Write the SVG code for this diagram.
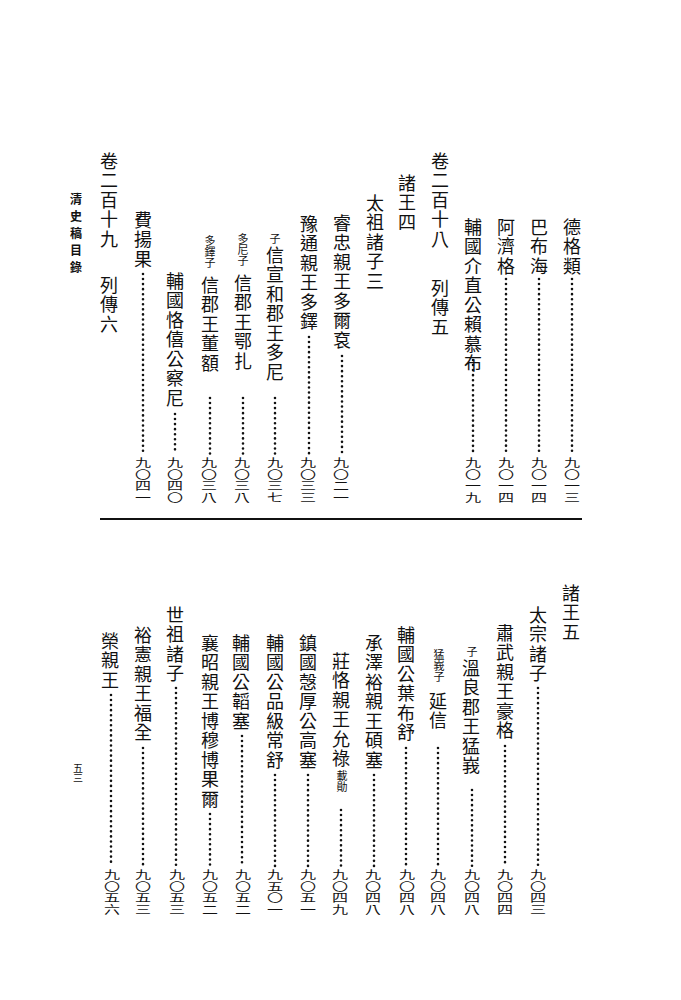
<svg xmlns="http://www.w3.org/2000/svg" width="681" height="1000" viewBox="0 0 681 1000">
<style>
.t{font-family:"Noto Sans CJK TC","Noto Sans CJK SC",sans-serif;font-size:18px;writing-mode:vertical-rl;text-orientation:upright;letter-spacing:1.5px;fill:#111}
.s{font-family:"Noto Sans CJK TC","Noto Sans CJK SC",sans-serif;font-size:11px;writing-mode:vertical-rl;text-orientation:upright;fill:#111}
.n{font-family:"Noto Sans CJK TC","Noto Sans CJK SC",sans-serif;font-size:16px;writing-mode:vertical-rl;text-orientation:upright;fill:#111}
.h{font-family:"Noto Sans CJK TC","Noto Sans CJK SC",sans-serif;font-size:12px;font-weight:bold;writing-mode:vertical-rl;text-orientation:upright;letter-spacing:5px;fill:#111}
.d{stroke:#111;stroke-width:2.6;stroke-linecap:round;stroke-dasharray:0 5.05;fill:none}
</style>
<rect width="681" height="1000" fill="#fff"/>
<g id="upper">
<g id="c1"><text class="t" x="572" y="218">德格類</text><g transform="translate(572,457) scale(1,0.72)"><text class="n" x="0" y="0">九〇一三</text></g></g>
<g id="c2"><text class="t" x="539" y="218">巴布海</text><g transform="translate(539,457) scale(1,0.72)"><text class="n" x="0" y="0">九〇一四</text></g></g>
<g id="c3"><text class="t" x="506" y="218">阿濟格</text><g transform="translate(506,457) scale(1,0.72)"><text class="n" x="0" y="0">九〇一四</text></g></g>
<g id="c4"><text class="t" x="473" y="218">輔國介直公賴慕布</text><g transform="translate(473,457) scale(1,0.72)"><text class="n" x="0" y="0">九〇一九</text></g></g>
<g id="c5"><text class="t" x="440" y="152">卷二百十八</text><text class="t" x="440" y="279">列傳五</text></g>
<g id="c6"><text class="t" x="407" y="174">諸王四</text></g>
<g id="c7"><text class="t" x="375" y="194">太祖諸子三</text></g>
<g id="c8"><text class="t" x="342" y="214">睿忠親王多爾袞</text><g transform="translate(341,457) scale(1,0.72)"><text class="n" x="0" y="0">九〇二一</text></g></g>
<g id="c9"><text class="t" x="309" y="215">豫通親王多鐸</text><g transform="translate(308,457) scale(1,0.72)"><text class="n" x="0" y="0">九〇三三</text></g></g>
<g id="c10"><text class="s" x="275" y="233">子</text><text class="t" x="275" y="246">信宣和郡王多尼</text><g transform="translate(275,457) scale(1,0.72)"><text class="n" x="0" y="0">九〇三七</text></g></g>
<g id="c11"><text class="s" x="243" y="233">多尼子</text><text class="t" x="243" y="274">信郡王鄂扎</text><g transform="translate(242,457) scale(1,0.72)"><text class="n" x="0" y="0">九〇三八</text></g></g>
<g id="c12"><text class="s" x="210" y="235">多鐸子</text><text class="t" x="210" y="276">信郡王董額</text><g transform="translate(209,457) scale(1,0.72)"><text class="n" x="0" y="0">九〇三八</text></g></g>
<g id="c13"><text class="t" x="175" y="272">輔國恪僖公察尼</text><g transform="translate(175,457) scale(1,0.72)"><text class="n" x="0" y="0">九〇四〇</text></g></g>
<g id="c14"><text class="t" x="143" y="211">費揚果</text><g transform="translate(143,457) scale(1,0.72)"><text class="n" x="0" y="0">九〇四一</text></g></g>
<g id="c15"><text class="t" x="109" y="152">卷二百十九</text><text class="t" x="109" y="276">列傳六</text></g>
<g id="c16"><text class="h" x="76" y="193">清史稿目錄</text></g>
</g>
<line id="rule" x1="100" y1="519" x2="582" y2="519" stroke="#111" stroke-width="2"/>
<g id="lower">
<g id="l1"><text class="t" x="571" y="584">諸王五</text></g>
<g id="l2"><text class="t" x="538" y="606">太宗諸子</text><g transform="translate(538,869) scale(1,0.72)"><text class="n" x="0" y="0">九〇四三</text></g></g>
<g id="l3"><text class="t" x="505" y="624">肅武親王豪格</text><g transform="translate(505,869) scale(1,0.72)"><text class="n" x="0" y="0">九〇四四</text></g></g>
<g id="l4"><text class="s" x="472" y="646">子</text><text class="t" x="471" y="659">溫良郡王猛峩</text><g transform="translate(472,869) scale(1,0.72)"><text class="n" x="0" y="0">九〇四八</text></g></g>
<g id="l5"><text class="s" x="439" y="649">猛峩子</text><text class="t" x="438" y="692">延信</text><g transform="translate(438,869) scale(1,0.72)"><text class="n" x="0" y="0">九〇四八</text></g></g>
<g id="l6"><text class="t" x="406" y="626">輔國公葉布舒</text><g transform="translate(407,869) scale(1,0.72)"><text class="n" x="0" y="0">九〇四八</text></g></g>
<g id="l7"><text class="t" x="374" y="634">承澤裕親王碩塞</text><g transform="translate(373,869) scale(1,0.72)"><text class="n" x="0" y="0">九〇四八</text></g></g>
<g id="l8"><text class="t" x="341" y="652">莊恪親王允祿</text><text class="s" x="342" y="770">載勛</text><g transform="translate(340,869) scale(1,0.72)"><text class="n" x="0" y="0">九〇四九</text></g></g>
<g id="l9"><text class="t" x="308" y="634">鎮國愨厚公高塞</text><g transform="translate(308,869) scale(1,0.72)"><text class="n" x="0" y="0">九〇五一</text></g></g>
<g id="l10"><text class="t" x="275" y="634">輔國公品級常舒</text><g transform="translate(275,869) scale(1,0.72)"><text class="n" x="0" y="0">九五〇一</text></g></g>
<g id="l11"><text class="t" x="241" y="634">輔國公韜塞</text><g transform="translate(243,869) scale(1,0.72)"><text class="n" x="0" y="0">九〇五二</text></g></g>
<g id="l12"><text class="t" x="210" y="634">襄昭親王博穆博果爾</text><g transform="translate(210,869) scale(1,0.72)"><text class="n" x="0" y="0">九〇五二</text></g></g>
<g id="l13"><text class="t" x="175" y="606">世祖諸子</text><g transform="translate(177,869) scale(1,0.72)"><text class="n" x="0" y="0">九〇五三</text></g></g>
<g id="l14"><text class="t" x="143" y="626">裕憲親王福全</text><g transform="translate(143,869) scale(1,0.72)"><text class="n" x="0" y="0">九〇五三</text></g></g>
<g id="l15"><text class="t" x="110" y="632">榮親王</text><g transform="translate(112,869) scale(1,0.72)"><text class="n" x="0" y="0">九〇五六</text></g></g>
<g id="l16"><text class="s" x="78" y="763" style="font-size:10px">五三</text></g>
</g>
<g id="leaders">
<line class="d" x1="572" y1="279" x2="572" y2="454"/>
<line class="d" x1="539" y1="279" x2="539" y2="454"/>
<line class="d" x1="506" y1="279" x2="506" y2="454"/>
<line class="d" x1="473" y1="360" x2="473" y2="454"/>
<line class="d" x1="342" y1="356" x2="342" y2="454"/>
<line class="d" x1="309" y1="337" x2="309" y2="454"/>
<line class="d" x1="275" y1="398" x2="275" y2="454"/>
<line class="d" x1="243" y1="398" x2="243" y2="454"/>
<line class="d" x1="210" y1="398" x2="210" y2="454"/>
<line class="d" x1="175" y1="414" x2="175" y2="454"/>
<line class="d" x1="143" y1="274" x2="143" y2="454"/>
<line class="d" x1="538" y1="688" x2="538" y2="866"/>
<line class="d" x1="505" y1="746" x2="505" y2="866"/>
<line class="d" x1="472" y1="790" x2="472" y2="866"/>
<line class="d" x1="438" y1="748" x2="438" y2="866"/>
<line class="d" x1="406" y1="748" x2="406" y2="866"/>
<line class="d" x1="374" y1="775" x2="374" y2="866"/>
<line class="d" x1="341" y1="810" x2="341" y2="866"/>
<line class="d" x1="308" y1="775" x2="308" y2="866"/>
<line class="d" x1="275" y1="775" x2="275" y2="866"/>
<line class="d" x1="242" y1="736" x2="242" y2="866"/>
<line class="d" x1="210" y1="814" x2="210" y2="866"/>
<line class="d" x1="176" y1="688" x2="176" y2="866"/>
<line class="d" x1="143" y1="748" x2="143" y2="866"/>
<line class="d" x1="111" y1="695" x2="111" y2="866"/>
</g>
</svg>
